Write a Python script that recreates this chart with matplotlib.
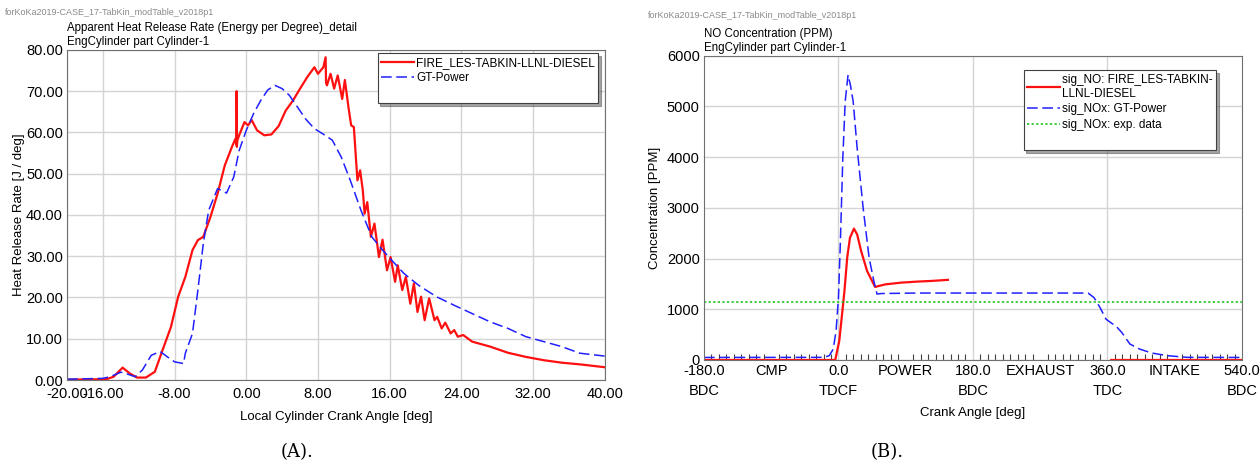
import numpy as np
import matplotlib
matplotlib.use("Agg")
import matplotlib.pyplot as plt

plt.rcParams['font.family'] = ['Liberation Sans', 'DejaVu Sans']

# --- panel A: heat release rate ---
hrr_x = [-20.0, -15.6, -14.8, -13.8, -13.0, -12.2, -11.2, -10.2, -9.4, -8.4, -7.6, -6.8,
         -6.0, -5.4, -4.8, -4.0, -3.2, -2.4, -1.6, -1.2, -1.1, -1.08, -1.05, -1.0, -0.8,
         -0.2, 0.2, 0.6, 1.2, 2.0, 2.8, 3.6, 4.4, 5.2, 6.0, 6.8, 7.6, 8.0, 8.6, 8.85,
         8.9, 9.0, 9.4, 9.8, 10.2, 10.7, 11.0, 11.4, 11.7, 12.0, 12.4, 12.7, 13.0, 13.2,
         13.5, 13.9, 14.3, 14.8, 15.2, 15.7, 16.1, 16.6, 16.9, 17.4, 17.8, 18.3, 18.7,
         19.1, 19.5, 19.9, 20.4, 21.0, 21.3, 21.8, 22.2, 22.8, 23.2, 23.6, 24.2, 25.2,
         27.2, 29.2, 31.2, 33.2, 35.2, 37.2, 40.0]
hrr_fire = [0.1, 0.2, 0.8, 3.0, 1.6, 0.6, 0.6, 2.0, 6.9, 12.9, 20.2, 25.0,
            31.5, 33.9, 34.7, 39.5, 45.2, 52.0, 56.5, 58.5, 57.0, 70.0, 56.5, 58.0, 59.3,
            62.5, 61.7, 63.0, 60.5, 59.3, 59.5, 61.5, 65.3, 67.7, 70.6, 73.4, 75.8, 74.2, 75.8, 78.2,
            72.0, 71.4, 74.2, 70.6, 73.8, 68.1, 72.7, 66.1, 61.7, 61.3, 48.4, 50.8, 46.0, 40.3,
            43.1, 34.7, 37.9, 29.8, 34.0, 26.6, 29.8, 23.8, 27.8, 21.8, 25.0, 18.5, 23.4,
            16.5, 20.2, 14.5, 19.8, 14.5, 15.3, 12.5, 13.9, 11.3, 12.1, 10.5, 10.9, 9.3,
            8.1, 6.6, 5.6, 4.8, 4.2, 3.8, 3.1]

gt_x = [-20.0, -16.0, -15.2, -14.0, -13.2, -12.4, -11.6, -10.6, -9.6, -8.8, -8.0, -7.0,
        -6.8, -6.0, -5.4, -4.8, -4.2, -3.2, -2.2, -1.4, -0.8, 0.0, 0.8, 1.6, 2.4, 3.2,
        4.0, 4.8, 5.6, 6.6, 7.6, 8.8, 9.6, 10.6, 11.6, 12.8, 14.0, 15.2, 16.4, 17.6,
        19.2, 21.2, 23.2, 25.2, 27.2, 29.2, 31.2, 33.2, 35.2, 37.2, 40.0]
gt_hrr = [0.2, 0.4, 0.8, 1.9, 1.4, 0.8, 2.4, 6.0, 6.9, 5.6, 4.4, 4.0,
          6.5, 11.3, 21.8, 33.0, 41.1, 46.4, 45.3, 49.2, 55.6, 60.5, 64.5, 67.7, 70.3, 71.4,
          70.6, 69.0, 66.5, 63.3, 60.9, 59.3, 58.1, 54.0, 48.4, 41.1, 34.7, 31.5, 28.6, 25.8,
          23.0, 20.2, 18.1, 16.1, 14.1, 12.5, 10.5, 9.3, 8.1, 6.5, 5.8]

hrr_ticks = [-20, -16, -8, 0, 8, 16, 24, 32, 40]

# --- panel B: NO concentration ---
no_x = [-180, -10, -4.3, 1.1, 4.8, 8.0, 11.7, 15.4, 20.7, 25.0, 30.3, 38.3, 49.0, 62.3,
        83.6, 104.9, 126.0, 146.4, np.nan, 365, 540]
no_fire = [0, 0, 0, 380, 900, 1360, 2020, 2410, 2590, 2475, 2150, 1755, 1440, 1490,
           1525, 1545, 1560, 1580, np.nan, 0, 0]

nox_x = [-180, -20, -12.3, -7.0, -3.2, 0.0, 2.6, 5.8, 9.0, 12.8, 16.0, 19.7, 25.0, 33.0,
         41.0, 47.3, 51.6, 56.9, 105, 334, 342, 350, 358, 366, 371, 379, 390, 403, 419,
         440, 467, 540]
nox_gt = [50, 52, 85, 215, 575, 1230, 2345, 3980, 5095, 5620, 5420, 5095, 4180, 3000,
          2015, 1560, 1300, 1310, 1320, 1320, 1230, 1035, 805, 720, 675, 545, 315, 215, 138,
          85, 52, 50]

nox_exp = 1150

crank_ticks = [-180, -90, 0, 90, 180, 270, 360, 450, 540]
crank_labels = ["-180.0\nBDC", "CMP", "0.0\nTDCF", "POWER", "180.0\nBDC",
                "EXHAUST", "360.0\nTDC", "INTAKE", "540.0\nBDC"]
crank_grid = [0, 180, 360]

fig = plt.figure(figsize=(12.6, 4.66), dpi=100)
ax1 = fig.add_axes([0.0532, 0.1845, 0.4268, 0.7085])
ax2 = fig.add_axes([0.5587, 0.2275, 0.427, 0.653])

grid_c = '#d4d4d4'
frame_c = '#707070'
leg_kw = dict(fontsize=8.5, fancybox=False, shadow=True, framealpha=1,
              edgecolor='#404040', borderpad=0.3, handlelength=2.8,
              handletextpad=0.15, labelspacing=0.3, borderaxespad=0)

# panel A
ax1.plot(hrr_x, hrr_fire, color='#ff1010', lw=1.6, label='FIRE_LES-TABKIN-LLNL-DIESEL')
ax1.plot(gt_x, gt_hrr, color='#2020ff', lw=1.1, dashes=(7, 3), label='GT-Power')
ax1.plot([], [], color='none', label=' ')  # blank row: legend box is taller in the original
ax1.set_xlim(-20, 40)
ax1.set_ylim(0, 80)
ax1.set_xticks(hrr_ticks)
ax1.set_xticklabels(['%.2f' % t for t in hrr_ticks])
ax1.set_yticks(np.arange(0, 81, 10))
ax1.set_yticklabels(['%.2f' % t for t in np.arange(0, 81, 10)])
ax1.grid(True, color=grid_c, lw=1)
ax1.set_axisbelow(True)
ax1.tick_params(axis='x', length=0, labelsize=10.5, pad=5)
ax1.tick_params(axis='y', length=0, labelsize=10.5, pad=3)
ax1.set_xlabel('Local Cylinder Crank Angle [deg]', fontsize=9.5, labelpad=7)
ax1.set_ylabel('Heat Release Rate [J / deg]', fontsize=9.5, labelpad=1)
for s in ax1.spines.values():
    s.set_color(frame_c)
ax1.text(0.0, 1.047, 'Apparent Heat Release Rate (Energy per Degree)_detail',
         transform=ax1.transAxes, fontsize=8.3, va='bottom')
ax1.text(0.0, 1.005, 'EngCylinder part Cylinder-1', transform=ax1.transAxes,
         fontsize=8.3, va='bottom')
leg1 = ax1.legend(loc='upper right', bbox_to_anchor=(0.988, 0.99), **leg_kw)
leg1.get_frame().set_linewidth(0.8)

# panel B
ax2.plot(no_x, no_fire, color='#ff1010', lw=1.6, label='sig_NO: FIRE_LES-TABKIN-\nLLNL-DIESEL')
ax2.plot(nox_x, nox_gt, color='#2020ff', lw=1.1, dashes=(7, 3), label='sig_NOx: GT-Power')
ax2.axhline(nox_exp, color='#10c010', lw=1.1, ls=(0, (1.5, 1.5)), label='sig_NOx: exp. data')
ax2.plot([], [], color='none', label=' ')
ax2.set_xlim(-180, 540)
ax2.set_ylim(0, 6000)
ax2.set_xticks(crank_ticks)
ax2.set_xticklabels(crank_labels, linespacing=1.5)
ax2.set_xticks(np.arange(-180, 541, 10), minor=True)
ax2.set_yticks(np.arange(0, 6001, 1000))
ax2.grid(True, axis='y', color=grid_c, lw=1)
for g in crank_grid:
    ax2.axvline(g, color=grid_c, lw=1, zorder=0)
ax2.set_axisbelow(True)
ax2.tick_params(axis='both', which='major', length=0, labelsize=10.5, pad=3)
ax2.tick_params(axis='x', which='minor', direction='in', length=4, width=0.8, color='#404040')
ax2.set_xlabel('Crank Angle [deg]', fontsize=9.5, labelpad=7)
ax2.set_ylabel('Concentration [PPM]', fontsize=9.5, labelpad=4)
for s in ax2.spines.values():
    s.set_color(frame_c)
ax2.text(0.0, 1.05, 'NO Concentration (PPM)', transform=ax2.transAxes,
         fontsize=8.3, va='bottom')
ax2.text(0.0, 1.005, 'EngCylinder part Cylinder-1', transform=ax2.transAxes,
         fontsize=8.3, va='bottom')
leg2 = ax2.legend(loc='upper right', bbox_to_anchor=(0.952, 0.952), **leg_kw)
leg2.get_frame().set_linewidth(0.8)

# file name headers and captions
fig.text(0.004, 0.973, 'forKoKa2019-CASE_17-TabKin_modTable_v2018p1', fontsize=6.5,
         color='#8a8a8a', va='center')
fig.text(0.514, 0.966, 'forKoKa2019-CASE_17-TabKin_modTable_v2018p1', fontsize=6.5,
         color='#8a8a8a', va='center')
fig.text(0.236, 0.03, '(A).', fontsize=13, family='DejaVu Serif', ha='center', va='center')
fig.text(0.704, 0.03, '(B).', fontsize=13, family='DejaVu Serif', ha='center', va='center')

fig.savefig('out.png', dpi=100)
